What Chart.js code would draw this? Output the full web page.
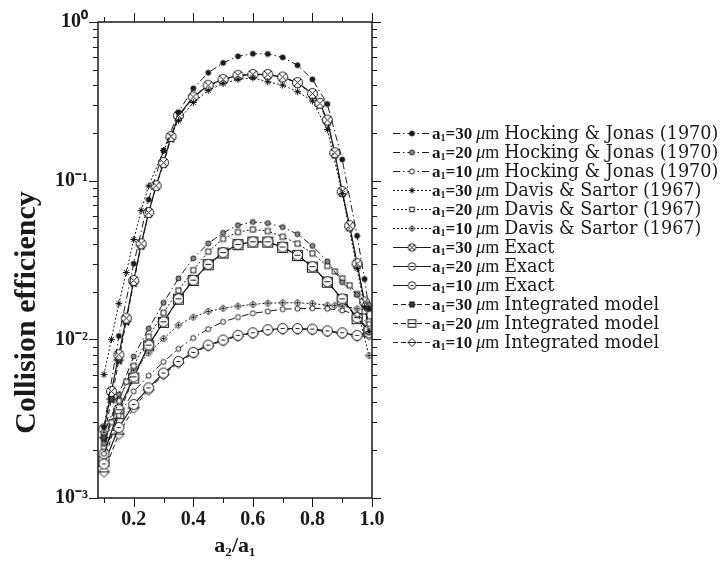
<!DOCTYPE html>
<html>
<head>
<meta charset="utf-8">
<script src="https://cdn.jsdelivr.net/npm/chart.js@4.4.1/dist/chart.umd.min.js"></script>
<style>
  body { margin: 0; background: #fff; }
  #wrap { position: relative; width: 721px; height: 572px; }
  #legend { position: absolute; left: 393px; top: 124px; }
  .row { display: flex; align-items: center; height: 19px; white-space: nowrap; color: #1a1a1a; }
  .row canvas { margin-right: 1px; }
  .a { font: bold 17px 'Liberation Serif'; }
  .a sub { font-size: 10px; vertical-align: -2px; }
  .mu { font: 18px 'Liberation Serif'; margin: 0 5px 0 4px; }
  .mu i { font-style: italic; }
  .nm { font: 17.6px 'DejaVu Serif'; }
</style>
</head>
<body>
<div id="wrap">
  <canvas id="chart" width="721" height="572"></canvas>
  <div id="legend"></div>
</div>
<script>
// a2/a1 grids
const x30 = [0.1, 0.125, 0.15, 0.175, 0.2, 0.225, 0.25, 0.275, 0.3, 0.325, 0.35, 0.4, 0.45, 0.5, 0.55, 0.6, 0.65, 0.7, 0.75, 0.8, 0.825, 0.85, 0.875, 0.9, 0.925, 0.95, 0.975, 0.99];
const xHJ30 = [0.1, 0.15, 0.2, 0.25, 0.3, 0.35, 0.4, 0.45, 0.5, 0.55, 0.6, 0.65, 0.7, 0.75, 0.8, 0.85, 0.9, 0.95, 0.975, 0.99];
const xDS30 = [0.1, 0.125, 0.15, 0.175, 0.2, 0.225, 0.25, 0.3, 0.35, 0.4, 0.45, 0.5, 0.55, 0.6, 0.65, 0.7, 0.75, 0.8, 0.85, 0.9, 0.95, 0.975, 0.99];
const x20 = [0.1, 0.15, 0.2, 0.25, 0.3, 0.35, 0.4, 0.45, 0.5, 0.55, 0.6, 0.65, 0.7, 0.75, 0.8, 0.85, 0.9, 0.95, 0.99];
const xDS20 = [0.1, 0.125, 0.15, 0.175, 0.2, 0.25, 0.3, 0.35, 0.4, 0.45, 0.5, 0.55, 0.6, 0.65, 0.7, 0.75, 0.8, 0.85, 0.875, 0.9, 0.925, 0.95, 0.975, 0.99];
const xDS10 = [0.1, 0.15, 0.2, 0.25, 0.3, 0.35, 0.4, 0.45, 0.5, 0.55, 0.6, 0.65, 0.7, 0.75, 0.8, 0.85, 0.875, 0.9, 0.95, 0.99];

// collision efficiencies
const hj30 = [0.0028, 0.0105, 0.03, 0.076, 0.155, 0.27, 0.382, 0.479, 0.553, 0.608, 0.631, 0.629, 0.599, 0.534, 0.435, 0.304, 0.136, 0.045, 0.024, 0.0155];
const hj20 = [0.0022, 0.0045, 0.0078, 0.0117, 0.017, 0.0242, 0.0324, 0.0402, 0.0469, 0.0524, 0.0549, 0.054, 0.051, 0.046, 0.0388, 0.031, 0.0229, 0.0191, 0.0165];
const hj10 = [0.0019, 0.0033, 0.0047, 0.0059, 0.0072, 0.0087, 0.0102, 0.0116, 0.0129, 0.0138, 0.0146, 0.015, 0.0155, 0.0156, 0.0157, 0.0156, 0.0152, 0.0143, 0.0125];
const ds30 = [0.006, 0.01, 0.0168, 0.0264, 0.0426, 0.065, 0.0925, 0.155, 0.239, 0.311, 0.37, 0.41, 0.435, 0.445, 0.42, 0.4, 0.364, 0.318, 0.21, 0.083, 0.028, 0.016, 0.0112];
const ds20 = [0.0021, 0.003, 0.0041, 0.0054, 0.0068, 0.0104, 0.0147, 0.0203, 0.0273, 0.0357, 0.043, 0.0474, 0.0492, 0.0481, 0.0443, 0.0401, 0.0348, 0.029, 0.0268, 0.0242, 0.0219, 0.0193, 0.015, 0.013];
const ds10 = [0.0026, 0.0042, 0.0064, 0.0082, 0.0101, 0.0123, 0.0138, 0.015, 0.0157, 0.0162, 0.0166, 0.0169, 0.017, 0.017, 0.0168, 0.0164, 0.0163, 0.0162, 0.0156, 0.0079];
const exact30 = [0.00273, 0.0047, 0.008, 0.0136, 0.0235, 0.04, 0.063, 0.093, 0.13, 0.19, 0.257, 0.337, 0.399, 0.435, 0.461, 0.467, 0.467, 0.45, 0.415, 0.354, 0.307, 0.241, 0.15, 0.0854, 0.052, 0.03, 0.0172, 0.0115];
const exact20 = [0.0019, 0.0036, 0.0058, 0.0092, 0.0129, 0.018, 0.0236, 0.0297, 0.0352, 0.0397, 0.0412, 0.0412, 0.0382, 0.0339, 0.0287, 0.0231, 0.018, 0.0137, 0.0115];
const exact10 = [0.00164, 0.00278, 0.00389, 0.00494, 0.00613, 0.00725, 0.00828, 0.0092, 0.0099, 0.0106, 0.011, 0.0115, 0.0117, 0.0117, 0.0116, 0.0113, 0.011, 0.0106, 0.011];
const integ30 = [0.0024, 0.0042, 0.0074, 0.013, 0.0228, 0.039, 0.062, 0.092, 0.128, 0.185, 0.252, 0.335, 0.397, 0.433, 0.459, 0.466, 0.465, 0.448, 0.412, 0.35, 0.302, 0.236, 0.147, 0.084, 0.051, 0.0295, 0.017, 0.0112];
const integ20 = [0.0017, 0.0034, 0.0057, 0.0091, 0.0128, 0.0179, 0.0235, 0.0295, 0.035, 0.0395, 0.041, 0.041, 0.038, 0.0337, 0.0285, 0.0229, 0.0178, 0.0135, 0.0112];
const integ10 = [0.00146, 0.00253, 0.0037, 0.0048, 0.006, 0.0071, 0.0082, 0.0091, 0.0098, 0.0105, 0.0109, 0.0114, 0.0116, 0.0116, 0.0115, 0.0112, 0.0109, 0.0105, 0.0107];

const xTickValues = [0.2, 0.4, 0.6, 0.8, 1.0];
const xTickLabels = ['0.2', '0.4', '0.6', '0.8', '1.0'];
const yTickValues = [1, 0.1, 0.01, 0.001];
const yTickLabels = ['10⁰', '10⁻¹', '10⁻²', '10⁻³'];

const INK = '#1a1a1a';
const DASHDOT = [7, 3, 1.5, 3];
const DOTTED = [2, 2];
const DASHED = [5, 3];

function makeMarker(kind, scale) {
  const c = document.createElement('canvas');
  c.width = c.height = 13;
  const g = c.getContext('2d');
  g.translate(6.5, 6.5);
  g.scale(scale, scale);
  g.strokeStyle = INK;
  g.fillStyle = '#fff';
  g.lineWidth = 1 / scale;
  const circ = r => { g.beginPath(); g.arc(0, 0, r, 0, Math.PI * 2); g.fill(); g.stroke(); };
  const seg = (x1, y1, x2, y2) => { g.beginPath(); g.moveTo(x1, y1); g.lineTo(x2, y2); g.stroke(); };
  const dia = r => { g.beginPath(); g.moveTo(0, -r); g.lineTo(r, 0); g.lineTo(0, r); g.lineTo(-r, 0); g.closePath(); g.fill(); g.stroke(); };
  const spokes = (r, n) => {
    for (let k = 0; k < n; k++) {
      const a = Math.PI * k / n;
      seg(-r * Math.cos(a), -r * Math.sin(a), r * Math.cos(a), r * Math.sin(a));
    }
  };
  if (kind === 'dotFill') { g.fillStyle = INK; circ(2.5); }
  if (kind === 'dotGray') { g.fillStyle = '#8c8c8c'; circ(2.5); }
  if (kind === 'dotOpen') { circ(2.5); }
  if (kind === 'star') { spokes(3.5, 4); g.fillStyle = INK; circ(1.3); }
  if (kind === 'sq') { g.fillRect(-2.5, -2.5, 5, 5); g.strokeRect(-2.5, -2.5, 5, 5); }
  if (kind === 'diaPlus') { dia(3.5); seg(-2, 0, 2, 0); seg(0, -2, 0, 2); }
  if (kind === 'circX') { circ(5); seg(-3.5, -3.5, 3.5, 3.5); seg(-3.5, 3.5, 3.5, -3.5); }
  if (kind === 'circBar') { circ(5); seg(-3, 0, 3, 0); }
  if (kind === 'circDot') { circ(5); seg(-2, 0, 2, 0); }
  if (kind === 'starBox') { g.lineWidth = 1.5 / scale; spokes(5, 3); g.fillStyle = '#555'; g.fillRect(-2.5, -2.5, 5, 5); g.strokeRect(-2.5, -2.5, 5, 5); }
  if (kind === 'boxBar') { g.fillRect(-5, -5, 10, 10); g.strokeRect(-5, -5, 10, 10); seg(-5, 0, 5, 0); }
  if (kind === 'diaBar') { dia(5.5); seg(-5.5, 0, 5.5, 0); }
  return c;
}

const series = [
  { size: '30', name: 'Hocking & Jonas (1970)', xs: xHJ30, ys: hj30, dash: DASHDOT, mark: 'dotFill', key: 1 },
  { size: '20', name: 'Hocking & Jonas (1970)', xs: x20, ys: hj20, dash: DASHDOT, mark: 'dotGray', key: 1 },
  { size: '10', name: 'Hocking & Jonas (1970)', xs: x20, ys: hj10, dash: DASHDOT, mark: 'dotOpen', key: 1 },
  { size: '30', name: 'Davis & Sartor (1967)', xs: xDS30, ys: ds30, dash: DOTTED, mark: 'star', key: 0.9 },
  { size: '20', name: 'Davis & Sartor (1967)', xs: xDS20, ys: ds20, dash: DOTTED, mark: 'sq', key: 0.9 },
  { size: '10', name: 'Davis & Sartor (1967)', xs: xDS10, ys: ds10, dash: DOTTED, mark: 'diaPlus', key: 0.9 },
  { size: '30', name: 'Exact', xs: x30, ys: exact30, dash: [], mark: 'circX', key: 0.75 },
  { size: '20', name: 'Exact', xs: x20, ys: exact20, dash: [], mark: 'circBar', key: 0.75 },
  { size: '10', name: 'Exact', xs: x20, ys: exact10, dash: [], mark: 'circDot', key: 0.75 },
  { size: '30', name: 'Integrated model', xs: x30, ys: integ30, dash: DASHED, mark: 'starBox', key: 0.75 },
  { size: '20', name: 'Integrated model', xs: x20, ys: integ20, dash: DASHED, mark: 'boxBar', key: 0.75 },
  { size: '10', name: 'Integrated model', xs: x20, ys: integ10, dash: DASHED, mark: 'diaBar', key: 0.75 }
];

series.forEach(s => {
  s.img = makeMarker(s.mark, 1);
  s.legendImg = makeMarker(s.mark, s.key);
});

// frame and outward tick marks all round
const frameTicks = {
  id: 'frameTicks',
  afterDraw(chart) {
    const { ctx, chartArea: a, scales: { x, y } } = chart;
    const line = (x1, y1, x2, y2) => { ctx.beginPath(); ctx.moveTo(x1, y1); ctx.lineTo(x2, y2); ctx.stroke(); };
    ctx.save();
    ctx.strokeStyle = INK;
    ctx.lineWidth = 1;
    const xMinor = [0.1, 0.3, 0.5, 0.7, 0.9];
    xTickValues.concat(xMinor).forEach(v => {
      const len = xMinor.includes(v) ? 5 : 9;
      const px = Math.round(x.getPixelForValue(v)) + 0.5;
      line(px, a.bottom, px, a.bottom + len);
      line(px, a.top, px, a.top - len);
    });
    yTickValues.forEach(v => {
      const py = Math.round(y.getPixelForValue(v)) + 0.5;
      line(a.left - 9, py, a.left, py);
      line(a.right, py, a.right + 9, py);
    });
    [0.001, 0.01, 0.1].forEach(d => {
      for (let k = 2; k <= 9; k++) {
        const py = Math.round(y.getPixelForValue(k * d)) + 0.5;
        line(a.left - 5, py, a.left, py);
        line(a.right, py, a.right + 5, py);
      }
    });
    ctx.lineWidth = 1.5;
    ctx.strokeRect(a.left, a.top, a.right - a.left, a.bottom - a.top);
    ctx.restore();
  }
};

const tickFont = { family: 'Liberation Serif', weight: 'bold', size: 20 };

new Chart(document.getElementById('chart'), {
  type: 'scatter',
  data: {
    datasets: series.map(s => ({
      label: s.size + ' ' + s.name,
      data: s.xs.map((x, i) => ({ x: x, y: s.ys[i] })),
      showLine: true,
      borderColor: INK,
      borderWidth: s.dash.length ? 1 : 1.2,
      borderDash: s.dash,
      backgroundColor: '#fff',
      pointStyle: s.img,
      pointRadius: 4
    }))
  },
  options: {
    responsive: false,
    animation: false,
    layout: { padding: { left: 0, top: 17, right: 349, bottom: 0 } },
    plugins: { legend: { display: false }, tooltip: { enabled: false } },
    scales: {
      x: {
        type: 'linear',
        min: 0.08,
        max: 1.0,
        afterBuildTicks: s => { s.ticks = xTickValues.map(v => ({ value: v })); },
        afterFit: s => { s.height = 74; },
        grid: { display: false, drawTicks: false },
        border: { display: false },
        ticks: { padding: 10, color: INK, font: tickFont, callback: (v, i) => xTickLabels[i] },
        title: { display: true, text: 'a₂/a₁', color: INK, font: { family: 'Liberation Serif', weight: 'bold', size: 22 }, padding: { top: 0, bottom: 12 } }
      },
      y: {
        type: 'logarithmic',
        min: 0.001,
        max: 1,
        afterBuildTicks: s => { s.ticks = yTickValues.map(v => ({ value: v })); },
        afterFit: s => { s.width = 98; },
        grid: { display: false, drawTicks: false },
        border: { display: false },
        ticks: { padding: 10, autoSkip: false, color: INK, font: tickFont, callback: (v, i) => yTickLabels[i] },
        // trailing spaces push the centred title down the axis, as in the original
        title: { display: true, text: 'Collision efficiency' + ' '.repeat(14), color: INK, font: { family: 'Liberation Serif', weight: 'bold', size: 30 }, padding: { top: 9, bottom: 0 } }
      }
    }
  },
  plugins: [frameTicks]
});

// legend with mixed fonts, as in the original figure
const legend = document.getElementById('legend');
series.forEach(s => {
  const row = document.createElement('div');
  row.className = 'row';
  const sample = document.createElement('canvas');
  sample.width = 38;
  sample.height = 19;
  const g = sample.getContext('2d');
  g.strokeStyle = INK;
  g.lineWidth = 1;
  g.setLineDash(s.dash);
  g.beginPath();
  g.moveTo(0, 9.5);
  g.lineTo(38, 9.5);
  g.stroke();
  g.drawImage(s.legendImg, 19 - 6.5, 9.5 - 6.5);
  row.appendChild(sample);
  const label = document.createElement('span');
  label.innerHTML = `<span class="a">a<sub>1</sub>=${s.size}</span><span class="mu"><i>μ</i>m</span><span class="nm">${s.name.replace('&', '&amp;')}</span>`;
  row.appendChild(label);
  legend.appendChild(row);
});
</script>
</body>
</html>
